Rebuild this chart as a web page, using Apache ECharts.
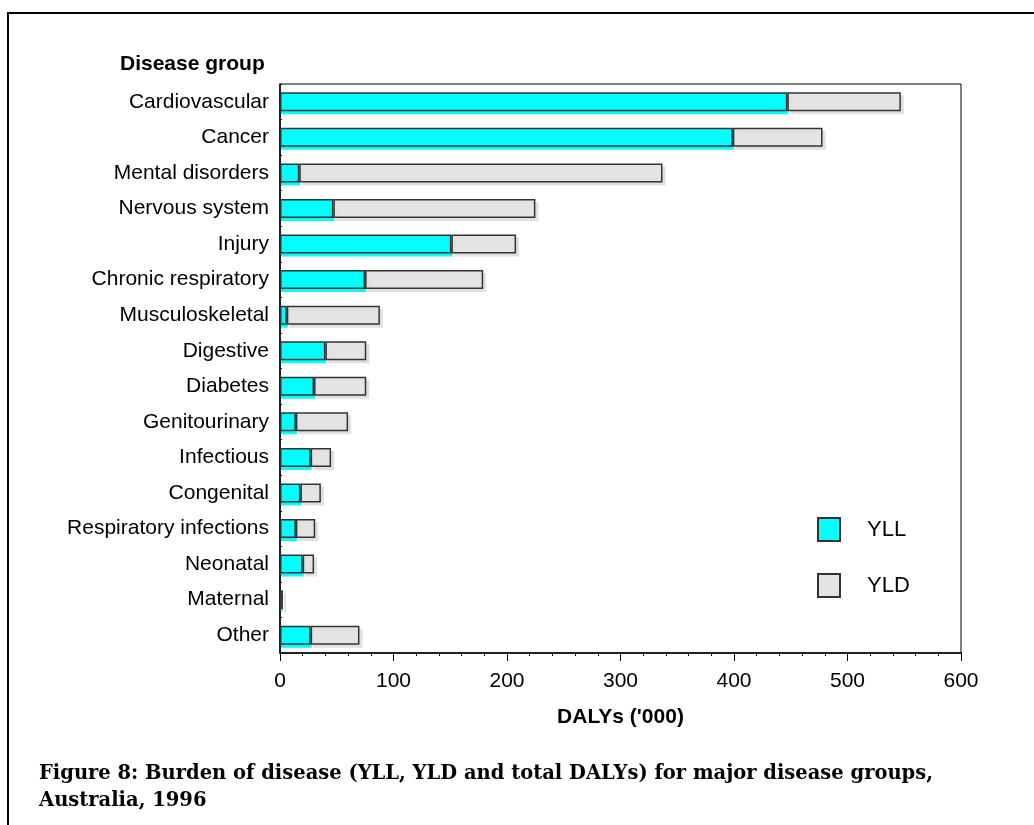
<!DOCTYPE html>
<html>
<head>
<meta charset="utf-8">
<script src="https://cdn.jsdelivr.net/npm/echarts@6/dist/echarts.min.js"></script>
<style>
html,body{margin:0;padding:0;background:#fff;}
#chart{width:1034px;height:825px;}
</style>
</head>
<body>
<div id="chart"></div>
<script>
const categories = ["Cardiovascular","Cancer","Mental disorders","Nervous system","Injury","Chronic respiratory","Musculoskeletal","Digestive","Diabetes","Genitourinary","Infectious","Congenital","Respiratory infections","Neonatal","Maternal","Other"];
const yll = [447, 399, 17, 47, 151, 75, 6, 40, 30, 14, 27, 18, 14, 20, 1, 27];
const yld = [100, 79, 320, 178, 57, 104, 82, 36, 46, 46, 18, 18, 17, 10, 1.6, 43];
const xTicks = [0, 100, 200, 300, 400, 500, 600];

const chart = echarts.init(document.getElementById('chart'));
const sans = 'Liberation Sans, Arial, sans-serif';
chart.setOption({
  animation: false,
  backgroundColor: '#fff',
  grid: { left: 280, right: 73, top: 84, bottom: 172, show: true, borderColor: '#000', borderWidth: 1, containLabel: false },
  xAxis: {
    type: 'value', min: xTicks[0], max: xTicks[xTicks.length-1], interval: 100,
    name: "DALYs ('000)", nameLocation: 'middle', nameGap: 54,
    nameTextStyle: { fontFamily: sans, fontSize: 21, fontWeight: 'bold', color: '#000' },
    axisLine: { show: true, lineStyle: { color: '#000', width: 1.5 } },
    axisTick: { show: true, inside: false, length: 8, lineStyle: { color: '#000' } },
    minorTick: { show: true, splitNumber: 5, length: 3, lineStyle: { color: '#000' } },
    splitLine: { show: false },
    axisLabel: { fontFamily: sans, fontSize: 21, color: '#000', margin: 18 }
  },
  yAxis: {
    type: 'category', data: categories, inverse: true,
    axisLine: { show: true, lineStyle: { color: '#000', width: 1.5 } },
    axisTick: { show: true, inside: true, length: 2, lineStyle: { color: '#000' } },
    splitLine: { show: false },
    axisLabel: { fontFamily: sans, fontSize: 21, color: '#000', margin: 11 }
  },
  legend: {
    orient: 'vertical', left: 817, top: 517, padding: 0, itemWidth: 22, itemHeight: 23, itemGap: 31,
    icon: 'rect',
    textStyle: { fontFamily: sans, fontSize: 22, color: '#000', padding: [0,0,0,22] },
    data: ['YLL','YLD']
  },
  series: [
    { name: 'YLL', type: 'bar', stack: 'total', data: yll, barWidth: 19,
      itemStyle: { color: '#00FFFF', borderColor: '#333', borderWidth: 1.5, shadowColor: '#00FFFF', shadowOffsetX: 1, shadowOffsetY: 3, shadowBlur: 0 } },
    { name: 'YLD', type: 'bar', stack: 'total', data: yld, barWidth: 19,
      itemStyle: { color: '#E4E4E4', borderColor: '#333', borderWidth: 1.5, shadowColor: '#E0E0E0', shadowOffsetX: 3, shadowOffsetY: 3, shadowBlur: 0 } }
  ],
  graphic: [
    { type: 'rect', shape: { x: 8, y: 13, width: 1100, height: 900 }, style: { fill: 'none', stroke: '#000', lineWidth: 2 }, silent: true },
    { type: 'text', left: 120, top: 54, style: { text: 'Disease group', font: 'bold 21px ' + sans, fill: '#000' } },
    { type: 'text', left: 39, top: 760, style: { text: 'Figure 8: Burden of disease (YLL, YLD and total DALYs) for major disease groups,\nAustralia, 1996', font: 'bold 19.5px DejaVu Serif, serif', fill: '#000', lineHeight: 27 } }
  ]
});
</script>
</body>
</html>
